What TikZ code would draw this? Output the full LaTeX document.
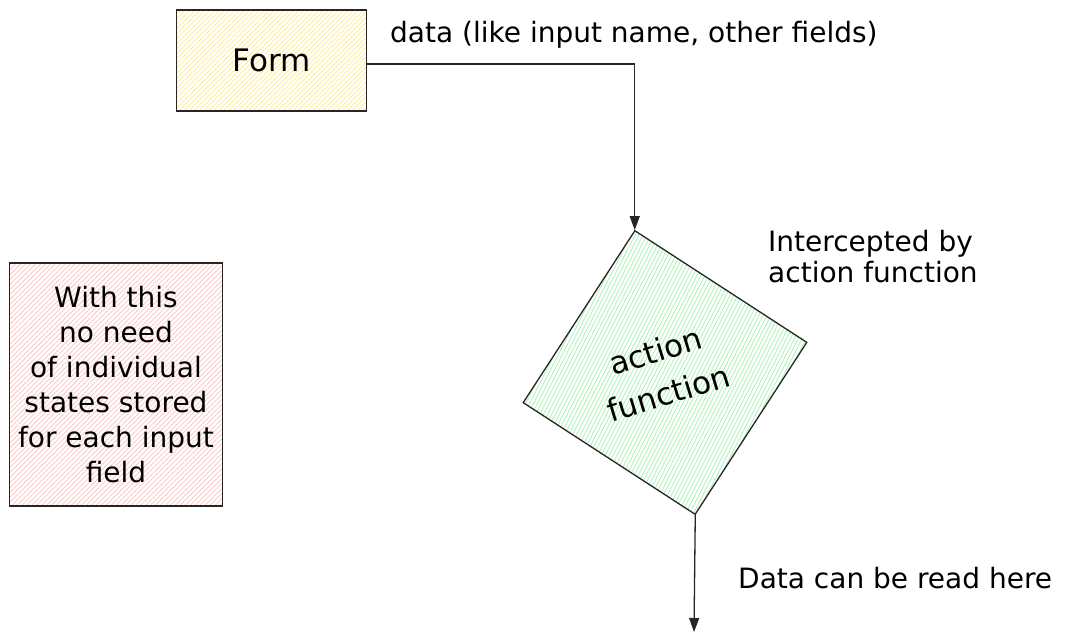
\documentclass[tikz,border=0pt]{standalone}
\usepackage{fontspec}
\setmainfont{DejaVu Sans}
\usetikzlibrary{arrows.meta,patterns.meta,positioning}
\definecolor{formline}{HTML}{FFEC99}
\definecolor{noteline}{HTML}{FFC9C9}
\definecolor{actline}{HTML}{B2F2BB}

\begin{document}
\begin{tikzpicture}[x=1pt,y=-1pt]
        \tikzset{box/.style={draw=black!85,line width=1.3pt,inner sep=0pt},
                hatch/.style={pattern={Lines[angle=#1,distance=3.5pt,line width=0.9pt]}},
                flow/.style={black!85,line width=1.3pt,-{Triangle[length=14pt,width=10pt]}},
                lbl/.style={font=\fontsize{28}{31}\selectfont,inner sep=0pt}}
        \useasboundingbox (0,0) rectangle (1086,641);
        \node [box,hatch=45,pattern color=formline,minimum width=190pt,minimum height=101pt] (form) at (271.5,60.5) {};
        \node [font=\fontsize{31}{36}\selectfont] (formtxt) at (form) {Form};
        \node [box,hatch=63,pattern color=actline,minimum size=205pt,rotate=-33] (act) at (665,372.5) {};
        \node [font=\fontsize{31}{44}\selectfont,align=center,rotate=17,inner sep=0pt] (acttxt) at (662,372) {action\\function};
        \node [box,hatch=45,pattern color=noteline,minimum width=213pt,minimum height=243pt,
                font=\fontsize{28}{35}\selectfont,align=center] (note) at (116,384.5) {With this\\no need\\of individual\\states stored\\for each input\\field};
        \coordinate (out) at (694,632);
        \draw [flow] ([yshift=-3.5pt]form.east) -| (act.north west);
        \draw [flow] (act.south east) -- (out);
        \node [lbl,anchor=west] (datalbl) at (390,35) {data (like input name, other fields)};
        \node [lbl,anchor=west,align=left] (intlbl) at (768,257) {Intercepted by\\action function};
        \node [lbl,anchor=west] (readlbl) at (738,578) {Data can be read here};
\end{tikzpicture}
\end{document}
